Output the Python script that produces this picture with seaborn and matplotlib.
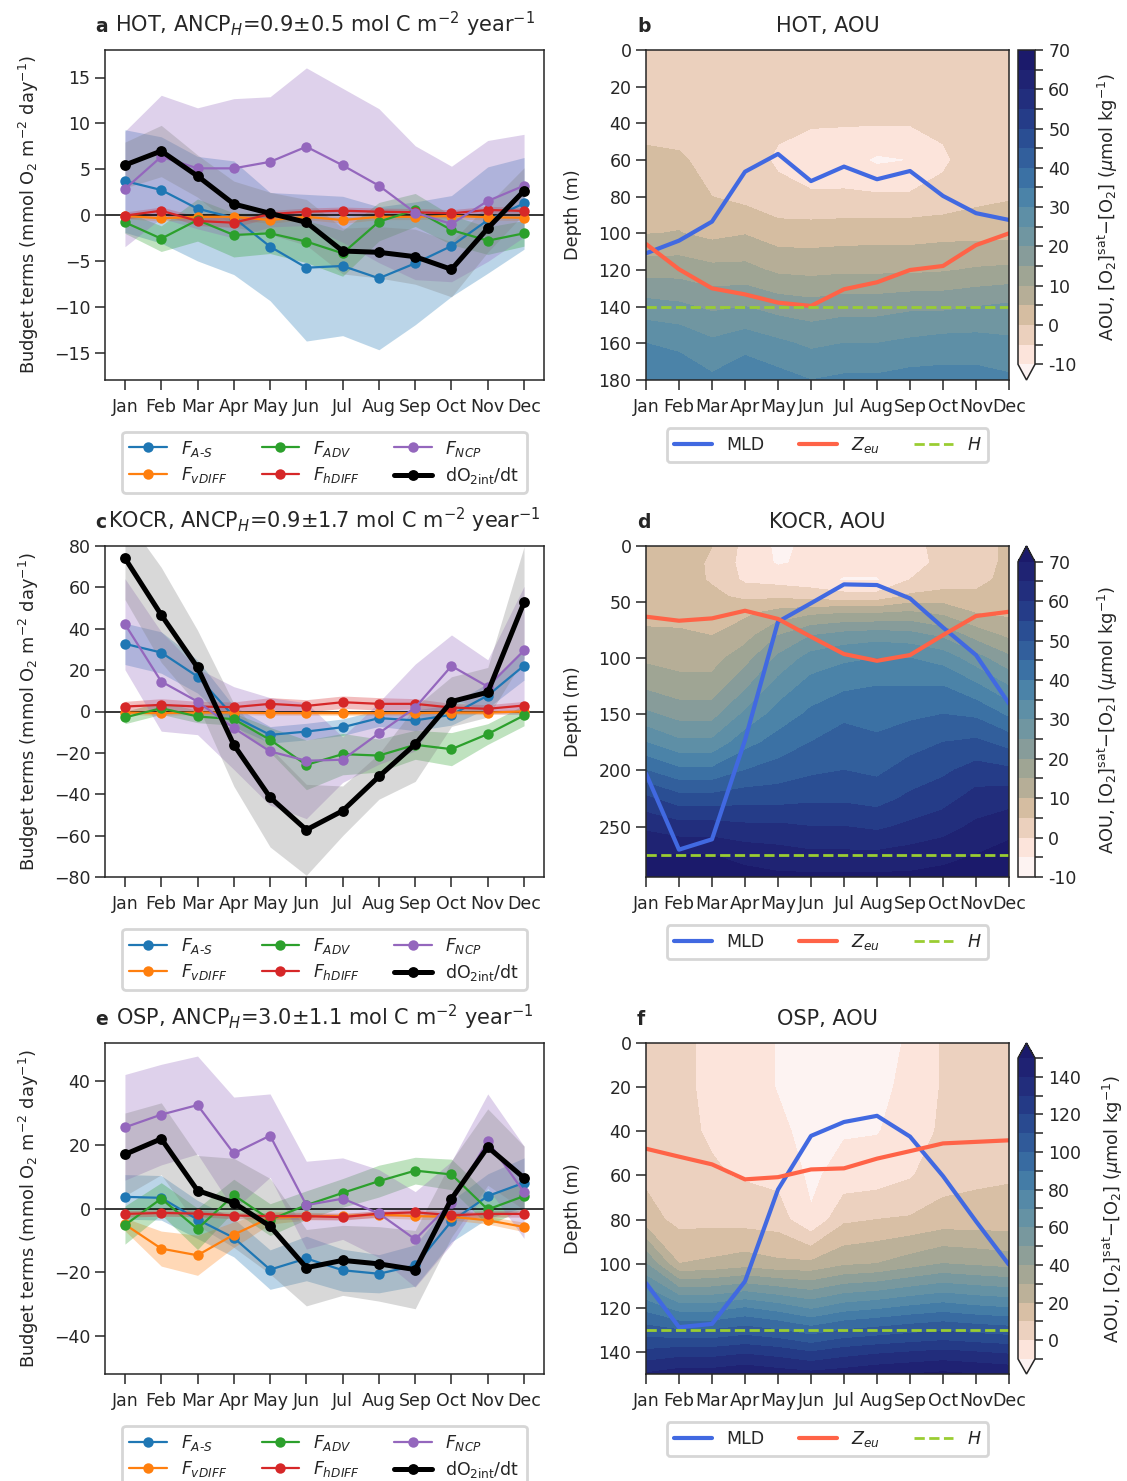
import numpy as np
import pandas as pd
import matplotlib
matplotlib.use("Agg")
import matplotlib.pyplot as plt
import seaborn as sns
from matplotlib.colors import LinearSegmentedColormap, BoundaryNorm

sns.set_style("ticks")
plt.rcParams['font.family'] = ['DejaVu Sans']
plt.rcParams['mathtext.fontset'] = 'dejavusans'

months = ['Jan', 'Feb', 'Mar', 'Apr', 'May', 'Jun', 'Jul', 'Aug', 'Sep', 'Oct', 'Nov', 'Dec']
month_num = list(range(1, 13))

# ---------------- budget terms (mmol O2 m-2 day-1) ----------------
hot_as = [3.7, 2.73, 0.69, -0.3, -3.45, -5.75, -5.56, -6.9, -5.27, -3.38, -0.55, 1.27]
hot_vdiff = [-0.1, -0.36, -0.2, -0.2, -0.55, -0.2, -0.55, -0.2, -0.2, -0.1, -0.25, -0.3]
hot_adv = [-0.8, -2.58, -0.55, -2.18, -2.0, -2.9, -4.18, -0.73, 0.55, -1.64, -2.8, -2.0]
hot_hdiff = [-0.07, 0.47, -0.65, -0.84, 0.1, 0.36, 0.47, 0.36, 0.3, 0.18, 0.55, 0.44]
hot_ncp = [2.84, 6.36, 5.09, 5.09, 5.8, 7.45, 5.42, 3.2, 0.25, -0.98, 1.53, 3.2]
hot_do2 = [5.45, 6.98, 4.25, 1.2, 0.18, -0.8, -3.93, -4.07, -4.55, -5.93, -1.45, 2.65]
hot_as_err = [5.6, 5.8, 5.7, 6.2, 5.9, 8.0, 7.6, 7.8, 6.7, 5.5, 5.8, 5.0]
hot_vdiff_err = [0.3, 0.3, 0.3, 0.35, 0.35, 0.3, 0.35, 0.3, 0.3, 0.3, 0.3, 0.3]
hot_adv_err = [1.2, 1.4, 2.3, 2.4, 2.2, 2.3, 2.5, 2.1, 1.8, 1.6, 1.5, 1.4]
hot_hdiff_err = [0.4, 0.4, 0.5, 0.5, 0.4, 0.4, 0.4, 0.4, 0.4, 0.4, 0.4, 0.4]
hot_ncp_err = [6.3, 6.7, 6.6, 7.6, 7.1, 8.6, 8.4, 8.4, 7.3, 6.3, 6.6, 5.6]
hot_do2_err = [2.5, 2.8, 2.3, 2.5, 2.3, 2.5, 2.5, 2.8, 3.0, 3.0, 2.6, 2.5]

kocr_as = [32.7, 28.5, 16.9, -2.4, -11.3, -9.7, -7.6, -3.2, -4.3, -1.6, 7.7, 22.2]
kocr_vdiff = [-0.5, -0.8, -0.5, -0.5, -0.8, -0.8, -0.8, -0.8, -0.8, -0.5, -0.5, 0.0]
kocr_adv = [-2.9, 1.6, -2.4, -3.7, -13.7, -25.8, -20.6, -21.3, -16.1, -18.2, -10.9, -1.9]
kocr_hdiff = [2.4, 3.2, 2.4, 2.1, 3.7, 2.7, 4.5, 3.7, 3.7, 1.9, 1.3, 2.9]
kocr_ncp = [42.2, 14.5, 4.8, -8.0, -19.3, -23.8, -23.3, -10.5, 1.9, 22.0, 12.0, 29.5]
kocr_do2 = [74.1, 46.7, 21.3, -16.1, -41.5, -57.2, -48.0, -31.4, -15.8, 4.8, 9.3, 52.7]
kocr_as_err = [10, 10, 8, 5, 4, 4, 4, 4, 5, 5, 6, 7]
kocr_vdiff_err = [1, 1, 1, 1, 1, 1, 1, 1, 1, 1, 1, 1]
kocr_adv_err = [3, 3, 3, 3, 6, 12, 10, 8, 7, 8, 5, 5]
kocr_hdiff_err = [2.5, 3, 2.5, 2.5, 3, 3, 3, 3, 2.5, 2, 2, 2]
kocr_ncp_err = [22, 24, 16, 20, 26, 28, 11, 15, 21, 15, 13, 31]
kocr_do2_err = [20, 23, 18, 20, 24, 22, 12, 11, 18, 12, 12, 27]

osp_as = [3.66, 3.35, -3.46, -9.2, -19.2, -15.7, -19.4, -20.5, -17.9, -4.0, 3.9, 8.1]
osp_vdiff = [-5.0, -12.6, -14.7, -8.2, -2.9, -2.4, -2.4, -1.9, -2.4, -2.6, -3.7, -5.8]
osp_adv = [-5.2, 3.1, -6.4, 4.2, -3.5, 1.05, 4.9, 8.6, 11.9, 10.7, -0.3, 3.9]
osp_hdiff = [-1.7, -1.4, -1.6, -2.2, -2.4, -2.4, -2.7, -1.6, -1.2, -2.1, -1.7, -1.7]
osp_ncp = [25.5, 29.5, 32.5, 17.3, 22.9, 1.05, 3.1, -1.57, -9.7, 1.8, 21.2, 5.1]
osp_do2 = [17.0, 21.9, 5.65, 1.78, -5.55, -18.6, -16.3, -17.4, -19.2, 3.04, 19.3, 9.6]
osp_as_err = [7, 7, 6, 6, 6.2, 7, 6.6, 6, 6.5, 6.5, 7, 7.8]
osp_vdiff_err = [2, 5.5, 6.3, 4, 2, 1.2, 1, 1, 1, 1, 1.2, 1.5]
osp_adv_err = [6, 5, 6.5, 5, 5, 4.5, 4.5, 5, 4.2, 4.8, 5, 4]
osp_hdiff_err = [1, 1, 1, 1, 1, 1, 1, 1, 1, 1, 1, 1]
osp_ncp_err = [16.6, 15.8, 15.4, 17.7, 13.1, 13.8, 12.8, 13.8, 15, 13, 14.8, 14.5]
osp_do2_err = [13, 11.3, 11, 14, 15, 12, 11, 11.7, 12.3, 12, 12, 10]

# ---------------- AOU sections (rows = months, columns = depths) ----------------
hot_depth = [0, 20, 40, 60, 80, 100, 120, 140, 160, 180]
hot_aou = [
    [-3.0, -2.5, -1.5, 1.0, 2.5, 4.8, 13.0, 22.0, 30.0, 33.0],
    [-3.0, -2.5, -1.5, 0.5, 2.5, 5.2, 13.0, 21.0, 29.0, 33.0],
    [-3.0, -2.5, -2.0, -1.2, 0.0, 3.5, 11.5, 19.0, 26.0, 31.0],
    [-3.0, -3.0, -3.2, -3.2, -1.5, 4.7, 11.5, 20.0, 28.0, 34.0],
    [-3.0, -3.5, -4.2, -5.6, -3.8, 2.5, 9.0, 18.0, 26.0, 32.0],
    [-3.0, -3.5, -4.6, -7.5, -4.4, 2.5, 8.5, 17.0, 24.0, 30.0],
    [-3.0, -3.5, -4.7, -8.0, -4.2, 2.8, 9.0, 18.0, 25.0, 31.0],
    [-3.0, -3.5, -4.7, -10.8, -4.3, 3.0, 9.0, 18.0, 25.0, 31.0],
    [-3.0, -3.5, -4.7, -10.0, -4.3, 3.0, 9.0, 19.0, 26.0, 32.0],
    [-3.0, -3.0, -4.0, -5.8, -3.5, 3.5, 9.5, 19.0, 27.0, 32.0],
    [-3.0, -2.5, -3.0, -2.5, -1.5, 3.5, 10.5, 20.0, 27.0, 32.0],
    [-3.0, -2.5, -2.0, -1.5, -0.5, 3.5, 11.0, 21.0, 26.0, 31.0],
]
hot_mld = [110.9, 104.0, 93.6, 66.4, 56.7, 71.5, 63.6, 70.5, 66.0, 79.6, 89.0, 92.7]
hot_zeu = [105.8, 119.6, 130.0, 133.3, 137.8, 139.6, 130.5, 126.7, 120.0, 117.8, 106.4, 100.0]
hot_h = 140

kocr_depth = [0, 15, 30, 45, 60, 80, 100, 125, 150, 175, 200, 225, 250, 275, 295]
kocr_aou = [
    [6, 6.5, 7, 7.5, 8.5, 11, 14, 19, 26, 35, 45, 56, 64, 70, 72],
    [6, 6.5, 7, 8, 9, 10.5, 13, 17, 23, 31, 41, 52, 62, 70, 74],
    [5, 4.5, 4.5, 6, 8, 10, 13, 17, 23, 31, 41, 52, 62, 70, 74],
    [-1.5, -2, -1, 4, 9, 13, 18, 24, 31, 38, 45, 53, 61, 68, 72],
    [-6, -5.5, -2, 4, 12, 20, 26, 32, 37, 42, 47, 53, 61, 67, 71],
    [-4, -4, -3, 3, 14, 25, 32, 37, 41, 45, 49, 54, 60, 66, 71],
    [-2, -3, -5.5, 2, 15, 27, 34, 39, 44, 47, 50, 54, 60, 66, 71],
    [-2, -3, -5.5, 2, 15, 28, 35, 40, 43, 46, 49, 53, 59, 66, 71],
    [-1, -1.5, 0, 6, 16, 27, 35, 40, 44, 48, 52, 56, 61, 67, 71],
    [1, 1, 2, 7, 14, 24, 33, 40, 45, 50, 54, 58, 63, 68, 72],
    [3, 3, 3.5, 6, 10, 18, 27, 36, 44, 51, 57, 62, 66, 70, 73],
    [6, 6, 6.5, 7, 9, 14, 21, 30, 39, 48, 56, 63, 68, 72, 75],
]
kocr_mld = [202.8, 270.6, 261.4, 173.0, 67.5, 51.0, 34.2, 34.8, 46.7, 72.6, 97.2, 140.4]
kocr_zeu = [63.0, 66.6, 64.5, 57.7, 65.0, 80.9, 96.3, 102.3, 97.2, 79.4, 62.4, 58.6]
kocr_h = 275

osp_depth = [0, 20, 40, 60, 80, 100, 120, 140, 150]
osp_aou = [
    [5, 5, 6, 8, 14, 50, 86, 122, 141],
    [1.5, 1.5, 2, 3, 7, 20, 75, 125, 145],
    [-1.5, -1.5, -1, 1, 7, 22, 75, 125, 145],
    [-5, -5, -4, -1, 6, 25, 80, 128, 148],
    [-10.5, -10.5, -8, -3, 5, 22, 75, 125, 145],
    [-14, -14, -13, -12, -9, 22, 68, 120, 143],
    [-14, -14, -11, -6, 8, 28, 75, 125, 145],
    [-13, -12, -10.5, -5, 10, 30, 78, 128, 148],
    [-9, -8, -6, -1, 11, 35, 82, 130, 150],
    [1, 1, 2, 6, 14, 40, 85, 132, 152],
    [4, 4, 5, 8, 14, 38, 82, 130, 150],
    [6, 6, 7, 9, 14, 36, 80, 128, 148],
]
osp_mld = [108.8, 128.8, 127.3, 108.0, 66.4, 42.1, 35.8, 33.0, 42.4, 60.3, 80.8, 100.5]
osp_zeu = [47.9, 51.5, 55.0, 61.8, 60.8, 57.3, 56.8, 52.4, 49.0, 45.5, 44.8, 44.1]
osp_h = 130

# ---------------- styling ----------------
series_labels = [r'$F_{A\text{-}S}$', r'$F_{vDIFF}$', r'$F_{ADV}$', r'$F_{hDIFF}$', r'$F_{NCP}$', r'dO$_{\rm 2int}$/dt']
series_colors = ['#1f77b4', '#ff7f0e', '#2ca02c', '#d62728', '#9467bd', 'black']
fill_colors = ['#1f77b4', '#ff7f0e', '#2ca02c', '#d62728', '#9467bd', 'gray']

aou_colors = ['#fdf3f2', '#fce3da', '#eacfbb', '#d4bca0', '#b5ad97', '#9ea594', '#869c9a',
              '#6f96a1', '#5d8fa6', '#4b83a8', '#3b71a4', '#325f9c', '#2a4e93', '#253c88',
              '#222e7d', '#1f2373', '#1b1a6b']
aou_cmap = LinearSegmentedColormap.from_list('aou', aou_colors, N=256)

FS_TICK = 12.5
FS_CTICK = 12.5
FS_LAB = 12.8
FS_TITLE = 15.0
FS_LEG = 12.5
TITLE_Y = 1.054

W, H = 1127, 1481
fig = plt.figure(figsize=(W / 100, H / 100), dpi=100)


def px_axes(x0, y0, x1, y1):
    return fig.add_axes([x0 / W, 1 - y1 / H, (x1 - x0) / W, (y1 - y0) / H])


def style_legend(leg):
    leg.get_frame().set_edgecolor('0.8')
    leg.get_frame().set_linewidth(2)


def budget_panel(ax, vals, errs, title, letter, ylim, yticks):
    for v, e, fc in zip(vals, errs, fill_colors):
        v = np.array(v, float)
        e = np.array(e, float)
        ax.fill_between(month_num, v - e, v + e, color=fc, alpha=0.3, lw=0, zorder=1)
    ax.axhline(0, color='black', lw=1.1, zorder=2)
    for i, (v, lab, c) in enumerate(zip(vals, series_labels, series_colors)):
        black = (c == 'black')
        df = pd.DataFrame({'month': month_num, 'value': v})
        sns.lineplot(data=df, x='month', y='value', ax=ax, color=c,
                     lw=3.6 if black else 1.6, marker='o', markersize=7.8 if black else 7.5,
                     markeredgewidth=0, label=lab, zorder=3 + i)
    ax.set_xticks(month_num)
    ax.set_xticklabels(months)
    ax.set_ylim(*ylim)
    ax.set_yticks(yticks)
    ax.set_xlabel('')
    ax.set_ylabel(r'Budget terms (mmol O$_2$ m$^{-2}$ day$^{-1}$)', fontsize=FS_LAB, labelpad=9)
    ax.tick_params(labelsize=FS_TICK, length=7, width=1.1)
    ax.tick_params(axis='x', pad=6)
    for s in ax.spines.values():
        s.set_linewidth(1.1)
    leg = ax.legend(loc='upper center', bbox_to_anchor=(0.5, -0.13), ncol=3,
                    fontsize=FS_LEG, handlelength=2.15, columnspacing=2.0,
                    frameon=True, borderpad=0.4, labelspacing=0.35)
    style_legend(leg)
    ax.text(0.5, TITLE_Y, title, transform=ax.transAxes, ha='center', va='baseline', fontsize=FS_TITLE)
    ax.text(-0.023, TITLE_Y, letter, transform=ax.transAxes, ha='left', va='baseline',
            fontsize=FS_TITLE - 1.5, fontweight='bold')


def aou_panel(ax, cax, depth, aou, mld, zeu, hval, levels, extend, ymax, yticks,
              cticks, title, letter):
    Z = np.array(aou, float).T
    X, Y = np.meshgrid(month_num, depth)
    norm = BoundaryNorm(levels, aou_cmap.N, extend=extend)
    cf = ax.contourf(X, Y, Z, levels=levels, cmap=aou_cmap, norm=norm, extend=extend)
    dfl = pd.DataFrame({'month': month_num, 'mld': mld, 'zeu': zeu})
    sns.lineplot(data=dfl, x='month', y='mld', ax=ax, color='royalblue', lw=3, label='MLD')
    sns.lineplot(data=dfl, x='month', y='zeu', ax=ax, color='tomato', lw=3, label=r'$Z_{eu}$')
    ax.axhline(hval, color='yellowgreen', lw=2, ls='--', label=r'$H$')
    ax.set_xlim(1, 12)
    ax.set_ylim(ymax, 0)
    ax.set_yticks(yticks)
    ax.set_xticks(month_num)
    ax.set_xticklabels(months)
    ax.set_xlabel('')
    ax.set_ylabel('Depth (m)', fontsize=FS_LAB, labelpad=12)
    ax.tick_params(labelsize=FS_TICK, length=7, width=1.1)
    ax.tick_params(axis='x', pad=6)
    for s in ax.spines.values():
        s.set_linewidth(1.1)
    leg = ax.legend(loc='upper center', bbox_to_anchor=(0.5, -0.12), ncol=3,
                    fontsize=FS_LEG, handlelength=2.2, columnspacing=2.0,
                    frameon=True, borderpad=0.4)
    style_legend(leg)
    ax.text(0.5, TITLE_Y, title, transform=ax.transAxes, ha='center', va='baseline', fontsize=FS_TITLE)
    ax.text(-0.025, TITLE_Y, letter, transform=ax.transAxes, ha='left', va='baseline',
            fontsize=FS_TITLE - 1.5, fontweight='bold')
    cb = fig.colorbar(cf, cax=cax, ticks=levels)
    cb.set_ticklabels([str(int(l)) if l in cticks else '' for l in levels])
    cb.ax.tick_params(labelsize=FS_CTICK, length=6, width=1.1)
    cb.outline.set_linewidth(1.1)
    cb.set_label(r'AOU, [O$_2$]$^{\rm sat}$$-$[O$_2$] ($\mu$mol kg$^{-1}$)', fontsize=FS_LAB,
                 labelpad=14)
    return cf


rows = [(50, 380), (546, 877), (1043, 1374)]
left_titles = ['HOT, ANCP$_H$=0.9±0.5 mol C m$^{-2}$ year$^{-1}$',
               'KOCR, ANCP$_H$=0.9±1.7 mol C m$^{-2}$ year$^{-1}$',
               'OSP, ANCP$_H$=3.0±1.1 mol C m$^{-2}$ year$^{-1}$']

ax_a = px_axes(105, rows[0][0], 544, rows[0][1])
ax_c = px_axes(105, rows[1][0], 544, rows[1][1])
ax_e = px_axes(105, rows[2][0], 544, rows[2][1])
ax_b = px_axes(646, rows[0][0], 1009, rows[0][1])
ax_d = px_axes(646, rows[1][0], 1009, rows[1][1])
ax_f = px_axes(646, rows[2][0], 1009, rows[2][1])
cax_b = px_axes(1018, rows[0][0], 1035, rows[0][1])
cax_d = px_axes(1018, rows[1][0], 1035, rows[1][1])
cax_f = px_axes(1018, rows[2][0], 1035, rows[2][1])

budget_panel(ax_a, [hot_as, hot_vdiff, hot_adv, hot_hdiff, hot_ncp, hot_do2],
             [hot_as_err, hot_vdiff_err, hot_adv_err, hot_hdiff_err, hot_ncp_err, hot_do2_err],
             left_titles[0], 'a', (-18, 18), [-15, -10, -5, 0, 5, 10, 15])
budget_panel(ax_c, [kocr_as, kocr_vdiff, kocr_adv, kocr_hdiff, kocr_ncp, kocr_do2],
             [kocr_as_err, kocr_vdiff_err, kocr_adv_err, kocr_hdiff_err, kocr_ncp_err, kocr_do2_err],
             left_titles[1], 'c', (-80, 80), [-80, -60, -40, -20, 0, 20, 40, 60, 80])
budget_panel(ax_e, [osp_as, osp_vdiff, osp_adv, osp_hdiff, osp_ncp, osp_do2],
             [osp_as_err, osp_vdiff_err, osp_adv_err, osp_hdiff_err, osp_ncp_err, osp_do2_err],
             left_titles[2], 'e', (-52, 52), [-40, -20, 0, 20, 40])

lev80 = list(range(-10, 71, 5))
lev160 = list(range(-10, 151, 10))
aou_panel(ax_b, cax_b, hot_depth, hot_aou, hot_mld, hot_zeu, hot_h, lev80, 'min', 180,
          list(range(0, 181, 20)), list(range(-10, 71, 10)), 'HOT, AOU', 'b')
aou_panel(ax_d, cax_d, kocr_depth, kocr_aou, kocr_mld, kocr_zeu, kocr_h, lev80, 'max', 295,
          [0, 50, 100, 150, 200, 250], list(range(-10, 71, 10)), 'KOCR, AOU', 'd')
aou_panel(ax_f, cax_f, osp_depth, osp_aou, osp_mld, osp_zeu, osp_h, lev160, 'both', 150,
          list(range(0, 141, 20)), list(range(0, 141, 20)), 'OSP, AOU', 'f')

fig.savefig('out.png', dpi=100)
